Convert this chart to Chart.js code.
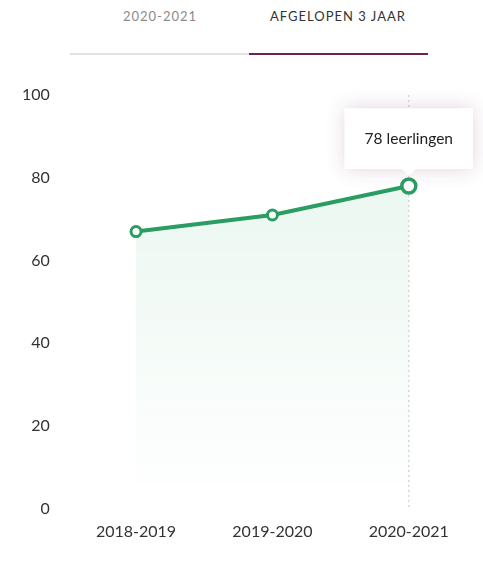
<!DOCTYPE html>
<html>
<head>
<meta charset="utf-8">
<script src="https://cdn.jsdelivr.net/npm/chart.js@4.4.0/dist/chart.umd.min.js"></script>
<style>
  html, body { margin: 0; padding: 0; background: #fff; }
  body { width: 483px; height: 578px; position: relative; overflow: hidden; font-family: Lato, sans-serif; }
  .tab { position: absolute; top: 8px; font-size: 13px; letter-spacing: 1px; transform: translateX(-50%); white-space: nowrap; }
  .tab.off { left: 160px; color: #8a8a8a; }
  .tab.on { left: 338px; color: #333; }
  .bar { position: absolute; top: 53px; height: 2px; }
  .bar.off { left: 70px; width: 179px; background: #e3e3e3; }
  .bar.on { left: 249px; width: 179px; background: #6b2358; }
  #wrap { position: absolute; left: 0; top: 0; width: 487px; height: 578px; }
</style>
</head>
<body>
<div class="tab off">2020-2021</div>
<div class="tab on">AFGELOPEN 3 JAAR</div>
<div class="bar off"></div>
<div class="bar on"></div>
<div id="wrap"><canvas id="myChart"></canvas></div>
<script>
const years = ['2018-2019', '2019-2020', '2020-2021']
const students = [67, 71, 78]
const yTicks = [0, 20, 40, 60, 80, 100]

const green = '#2a9d63'

// dashed line under the active point + soft shadow behind the tooltip
const hoverLine = {
  id: 'hoverLine',
  beforeDatasetsDraw(chart) {
    const ctx = chart.ctx
    const x = chart.scales.x.getPixelForValue(students.length - 1)
    ctx.save()
    ctx.strokeStyle = '#c8c8c8'
    ctx.lineWidth = 1
    ctx.setLineDash([2, 3])
    ctx.beginPath()
    ctx.moveTo(x, chart.chartArea.top)
    ctx.lineTo(x, chart.chartArea.bottom)
    ctx.stroke()
    ctx.restore()
  },
  beforeTooltipDraw(chart, args) {
    const t = args.tooltip
    const ctx = chart.ctx
    ctx.save()
    ctx.shadowColor = 'rgba(120, 60, 110, 0.22)'
    ctx.shadowBlur = 18
    ctx.fillStyle = '#fff'
    ctx.fillRect(t.x, t.y, t.width, t.height)
    ctx.restore()
  }
}

var ctx = document.getElementById('myChart').getContext('2d')
const grad = ctx.createLinearGradient(0, 190, 0, 505)
grad.addColorStop(0, 'rgba(42, 170, 100, 0.09)')
grad.addColorStop(1, 'rgba(42, 170, 100, 0)')

const myChart = new Chart(ctx, {
  type: 'line',
  data: {
    labels: years,
    datasets: [{
      label: 'leerlingen',
      data: students,
      borderColor: green,
      borderWidth: 4,
      fill: 'origin',
      backgroundColor: grad,
      pointRadius: 5,
      pointBorderWidth: 3,
      pointBackgroundColor: '#fff',
      pointBorderColor: green,
      pointHoverRadius: 7,
      pointHoverBorderWidth: 3.5,
      pointHoverBackgroundColor: '#fff',
      pointHoverBorderColor: green,
      tension: 0
    }]
  },
  plugins: [hoverLine],
  options: {
    responsive: true,
    maintainAspectRatio: false,
    animation: false,
    events: [],
    layout: { padding: { top: 95, bottom: 24, left: 4, right: 3 } },
    plugins: {
      legend: { display: false },
      tooltip: {
        enabled: true,
        yAlign: 'bottom',
        xAlign: 'center',
        backgroundColor: '#fff',
        titleColor: '#222',
        bodyColor: '#222',
        displayColors: false,
        cornerRadius: 0,
        caretSize: 7,
        caretPadding: 10,
        padding: { left: 20, right: 20, top: 21, bottom: 21 },
        bodyFont: { family: 'Lato', size: 15.5 },
        callbacks: {
          title: () => '',
          label: (item) => item.raw + ' leerlingen'
        }
      }
    },
    scales: {
      x: {
        offset: true,
        grid: { display: false, drawTicks: false },
        border: { display: false },
        ticks: { color: '#333', padding: 13, font: { family: 'Lato', size: 16 } }
      },
      y: {
        min: 0,
        max: 100,
        afterBuildTicks: (axis) => { axis.ticks = yTicks.map(v => ({ value: v })) },
        grid: { display: false, drawTicks: false },
        border: { display: false },
        ticks: { color: '#333', padding: 18, font: { family: 'Lato', size: 16 } }
      }
    }
  }
})

const last = students.length - 1
myChart.setActiveElements([{ datasetIndex: 0, index: last }])
myChart.tooltip.setActiveElements([{ datasetIndex: 0, index: last }], { x: 0, y: 0 })
myChart.update()
</script>
</body>
</html>
